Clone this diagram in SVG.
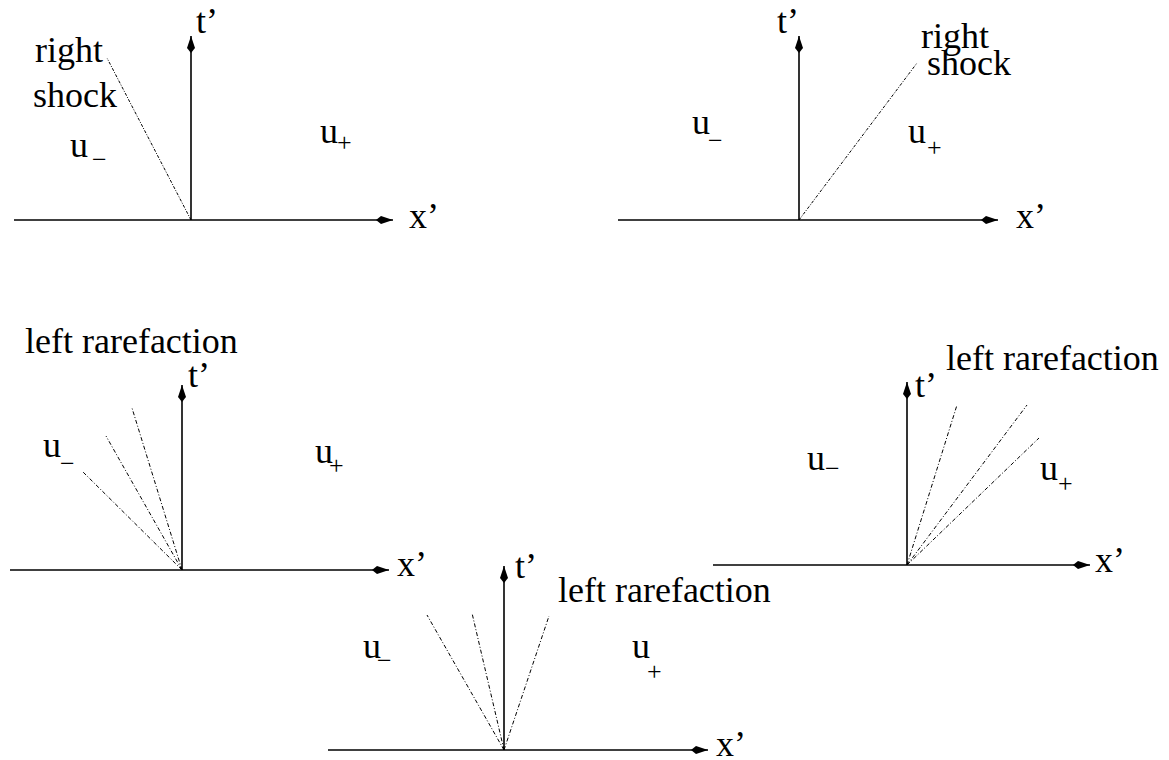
<svg xmlns="http://www.w3.org/2000/svg" width="1169" height="760" viewBox="0 0 1169 760">
<defs>
<marker id="ah" markerUnits="userSpaceOnUse" markerWidth="21" markerHeight="10" refX="20" refY="5" orient="auto" overflow="visible">
<polygon points="20,5 8,1 3,5 8,9" fill="#000"/>
</marker>
<style>
.ax{stroke:#000;stroke-width:1.6;fill:none;marker-end:url(#ah)}
.sh{stroke:#000;stroke-width:1;fill:none;stroke-dasharray:3 1.5 1 1.5}
.fn{stroke:#000;stroke-width:1;fill:none;stroke-dasharray:4 2 1 2}
text{font-family:"Liberation Serif","Times New Roman",serif;font-size:36px;fill:#000}
.sub{font-size:26px}
</style>
</defs>
<rect width="1169" height="760" fill="#fff"/>
<g id="panel1">
<g id="p1-axes"><line class="ax" x1="14" y1="220" x2="393" y2="220"/><line class="ax" x1="191" y1="220" x2="191" y2="36"/></g>
<text x="409" y="228">x’</text>
<text x="196" y="33">t’</text>
<text x="35" y="62">right</text>
<text x="33" y="107">shock</text>
<text x="70" y="157">u</text><text class="sub" x="92" y="168">−</text>
<text x="320" y="143">u</text><text class="sub" x="337" y="151">+</text>
</g>
<g id="panel2">
<g id="p2-axes"><line class="ax" x1="618" y1="220" x2="998" y2="220"/><line class="ax" x1="799" y1="220" x2="799" y2="36"/></g>
<text x="1016" y="228">x’</text>
<text x="777" y="33">t’</text>
<text x="921" y="48">right</text>
<text x="927" y="75">shock</text>
<text x="692" y="134">u</text><text class="sub" x="708" y="149">−</text>
<text x="908" y="143">u</text><text class="sub" x="927" y="156">+</text>
</g>
<g id="panel3">
<g id="p3-axes"><line class="ax" x1="10" y1="570" x2="389" y2="570"/><line class="ax" x1="182" y1="570" x2="182" y2="385"/></g>
<text x="397" y="576">x’</text>
<text x="188" y="387">t’</text>
<text x="25" y="353">left rarefaction</text>
<text x="43" y="457">u</text><text class="sub" x="60" y="472">−</text>
<text x="315" y="463">u</text><text class="sub" x="329" y="474">+</text>
</g>
<g id="panel4">
<g id="p4-axes"><line class="ax" x1="713" y1="565" x2="1090" y2="565"/><line class="ax" x1="907" y1="565" x2="907" y2="382"/></g>
<text x="1095" y="572">x’</text>
<text x="915" y="397">t’</text>
<text x="946" y="370">left rarefaction</text>
<text x="807" y="470">u</text><text class="sub" x="825" y="477">−</text>
<text x="1040" y="480">u</text><text class="sub" x="1058" y="492">+</text>
</g>
<g id="panel5">
<g id="p5-axes"><line class="ax" x1="328" y1="750" x2="708" y2="750"/><line class="ax" x1="504" y1="750" x2="504" y2="566"/></g>
<text x="716" y="756">x’</text>
<text x="515" y="578">t’</text>
<text x="558" y="602">left rarefaction</text>
<text x="363" y="658">u</text><text class="sub" x="377" y="669">−</text>
<text x="632" y="658">u</text><text class="sub" x="647" y="680">+</text>
</g>
<g id="connectors">
<line class="sh" x1="191" y1="220" x2="107" y2="58"/>
<line class="sh" x1="799" y1="220" x2="917" y2="63"/>
<line class="fn" x1="182" y1="570" x2="83" y2="472"/>
<line class="fn" x1="182" y1="570" x2="106" y2="436"/>
<line class="fn" x1="182" y1="570" x2="132" y2="408"/>
<line class="fn" x1="907" y1="565" x2="957" y2="405"/>
<line class="fn" x1="907" y1="565" x2="1027" y2="405"/>
<line class="fn" x1="907" y1="565" x2="1039" y2="438"/>
<line class="fn" x1="504" y1="750" x2="427" y2="615"/>
<line class="fn" x1="504" y1="750" x2="472" y2="613"/>
<line class="fn" x1="504" y1="750" x2="549" y2="616"/>
</g>
</svg>
